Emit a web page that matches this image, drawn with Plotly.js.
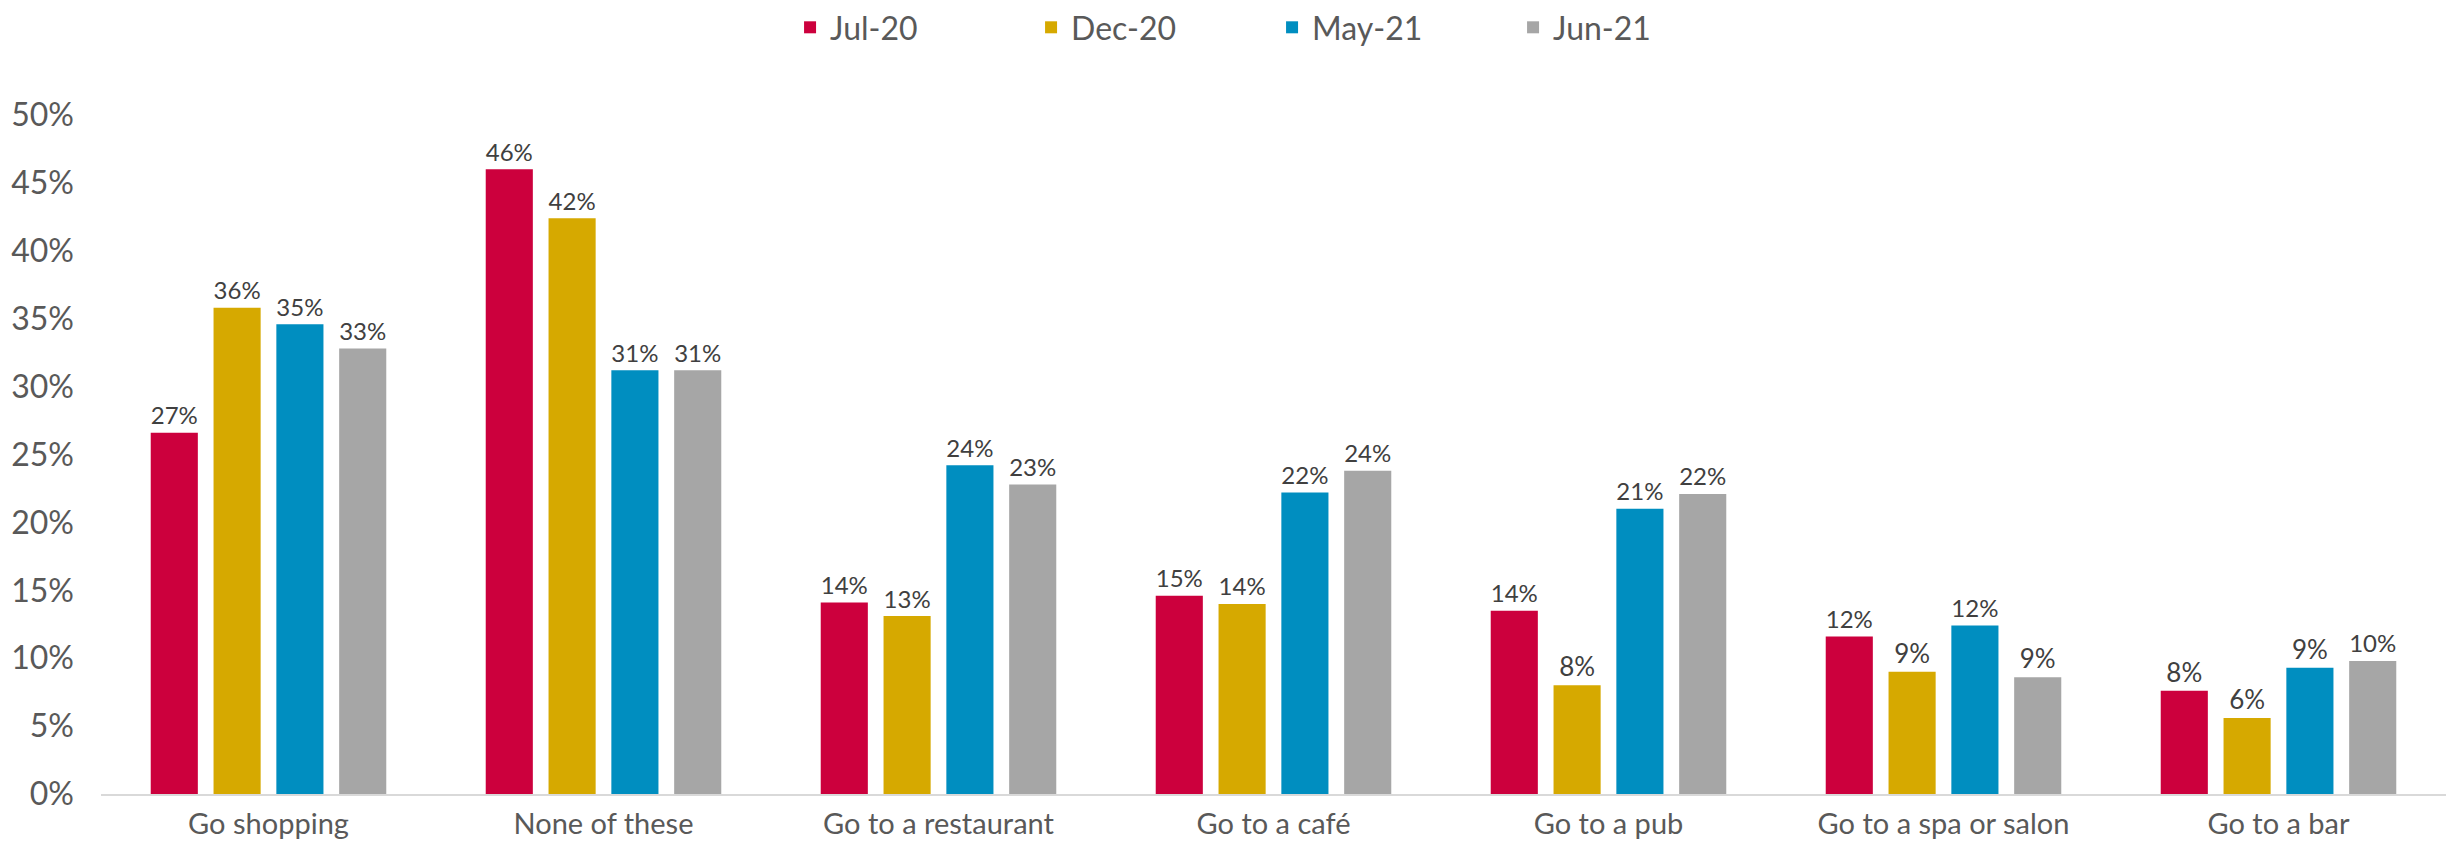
<!DOCTYPE html>
<html>
<head>
<meta charset="utf-8">
<script src="https://cdn.plot.ly/plotly-3.0.1.min.js"></script>
<style>html,body{margin:0;padding:0;background:#fff;}#chart{width:2446px;height:846px;}</style>
</head>
<body>
<div id="chart"></div>
<script>
const categories = ["Go shopping", "None of these", "Go to a restaurant", "Go to a café", "Go to a pub", "Go to a spa or salon", "Go to a bar"];
const seriesNames = ["Jul-20", "Dec-20", "May-21", "Jun-21"];
const jul20 = [26.6, 46.0, 14.1, 14.6, 13.5, 11.6, 7.6];
const dec20 = [35.8, 42.4, 13.1, 14.0, 8.0, 9.0, 5.6];
const may21 = [34.6, 31.2, 24.2, 22.2, 21.0, 12.4, 9.3];
const jun21 = [32.8, 31.2, 22.8, 23.8, 22.1, 8.6, 9.8];
const yTicks = [0, 5, 10, 15, 20, 25, 30, 35, 40, 45, 50];

const colors = ["#CC003D", "#D6A900", "#008EC0", "#A6A6A6"];
const allSeries = [jul20, dec20, may21, jun21];
const font = "Lato, 'Open Sans', sans-serif";

const traces = allSeries.map((vals, i) => ({
  type: "bar",
  name: seriesNames[i],
  x: categories,
  y: vals,
  marker: {color: colors[i]},
  texttemplate: "%{y:.0f}%",
  textposition: "outside",
  cliponaxis: false,
  textfont: {family: font, size: 26, color: "#404040"},
  hoverinfo: "none"
}));

const layout = {
  width: 2446,
  height: 846,
  margin: {l: 101, r: 0, t: 115, b: 52},
  paper_bgcolor: "#ffffff",
  plot_bgcolor: "#ffffff",
  barmode: "group",
  bargap: 0.25,
  bargroupgap: 0.25,
  showlegend: true,
  legend: {
    orientation: "h",
    xref: "container", yref: "container",
    x: 0.323, xanchor: "left",
    y: 1, yanchor: "top",
    entrywidth: 196, entrywidthmode: "pixels",
    font: {family: font, size: 32, color: "#595959"},
    traceorder: "normal"
  },
  xaxis: {
    type: "category",
    showline: true, linecolor: "#D9D9D9", linewidth: 2,
    ticks: "", showgrid: false, zeroline: false,
    tickfont: {family: font, size: 29, color: "#595959"},
    ticklabelstandoff: 3
  },
  yaxis: {
    range: [0, 50],
    tickvals: yTicks,
    ticktext: yTicks.map(v => v + "%"),
    showgrid: false, zeroline: false, showline: false, ticks: "",
    tickfont: {family: font, size: 32, color: "#595959"},
    ticklabelstandoff: 26
  },
  font: {family: font}
};

Plotly.newPlot("chart", traces, layout, {displayModeBar: false, staticPlot: true});
</script>
</body>
</html>
